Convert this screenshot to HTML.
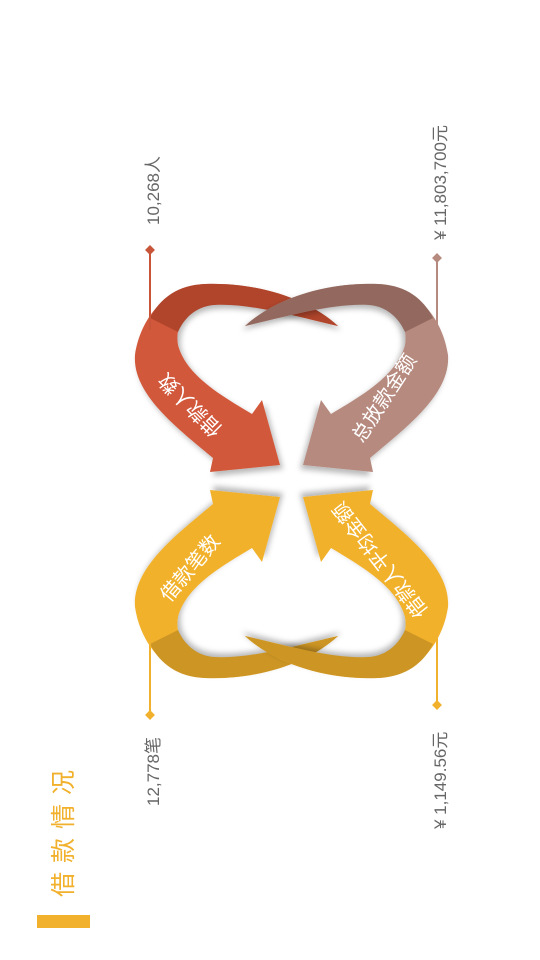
<!DOCTYPE html>
<html><head><meta charset="utf-8">
<style>
html,body{margin:0;padding:0;background:#fff;}
svg{display:block;font-family:"Liberation Sans","Noto Sans CJK SC",sans-serif;}
</style></head>
<body>
<svg width="540" height="960" viewBox="0 0 540 960">
<defs>
<filter id="sh" x="-20%" y="-20%" width="140%" height="140%"><feDropShadow dx="3" dy="4" stdDeviation="3" flood-color="#000" flood-opacity="0.28"/></filter>
<path id="ribbon" d="M338,326 C310,300 260,282 205,284 C165,286 140,320 135,355 C132,395 180,430 213,458 L210,472 L280,465 L262,400 L252,414 C220,395 186,375 178,345 C174,322 190,307 212,305 C247,302 290,315 338,326 Z"/>
<path id="fold" d="M338,326 C310,300 260,282 205,284 C178,285 160,298 150,318 L178,332 C186,314 200,306 214,305 C250,303 295,316 338,326 Z"/>
</defs>

<g>
<use href="#ribbon" fill="#d2593a" filter="url(#sh)"/>
<use href="#fold" fill="#b0452b"/>
</g>
<g transform="translate(583 0) scale(-1 1)">
<use href="#ribbon" fill="#b68a7e" filter="url(#sh)"/>
<use href="#fold" fill="#93695f"/>
</g>
<g transform="translate(0 962) scale(1 -1)">
<use href="#ribbon" fill="#f2b12c" filter="url(#sh)"/>
<use href="#fold" fill="#cc9524"/>
</g>
<g transform="translate(583 962) scale(-1 -1)">
<use href="#ribbon" fill="#f2b12c" filter="url(#sh)"/>
<use href="#fold" fill="#cc9524"/>
</g>

<text x="0" y="7" fill="#fff" font-size="20" text-anchor="middle" transform="translate(190 405) rotate(-135)">借款人数</text>
<text x="0" y="7" fill="#fff" font-size="20" text-anchor="middle" transform="translate(384 398) rotate(-57)">总放款金额</text>
<text x="0" y="7" fill="#fff" font-size="20" text-anchor="middle" transform="translate(190 568) rotate(-50)">借款笔数</text>
<text x="0" y="7" fill="#fff" font-size="20" text-anchor="middle" transform="translate(380 560) rotate(-128)">借款人平均金额</text>

<g>
<line x1="150" y1="250" x2="150" y2="330" stroke="#c8553a" stroke-width="2"/>
<rect x="146.5" y="246.5" width="7" height="7" fill="#c8553a" transform="rotate(45 150 250)"/>
</g>
<g>
<line x1="437" y1="258" x2="437" y2="325" stroke="#b68a7e" stroke-width="2"/>
<rect x="433.5" y="254.5" width="7" height="7" fill="#b68a7e" transform="rotate(45 437 258)"/>
</g>
<g>
<line x1="150" y1="635" x2="150" y2="715" stroke="#f2b12c" stroke-width="2"/>
<rect x="146.5" y="711.5" width="7" height="7" fill="#f2b12c" transform="rotate(45 150 715)"/>
</g>
<g>
<line x1="437" y1="630" x2="437" y2="705" stroke="#f2b12c" stroke-width="2"/>
<rect x="433.5" y="701.5" width="7" height="7" fill="#f2b12c" transform="rotate(45 437 705)"/>
</g>

<text x="0" y="0" fill="#666" font-size="17" transform="translate(159 225) rotate(-90)">10,268人</text>
<text x="0" y="0" fill="#666" font-size="17" transform="translate(446 240) rotate(-90)">¥ 11,803,700元</text>
<text x="0" y="0" fill="#666" font-size="17" transform="translate(159 806) rotate(-90)">12,778笔</text>
<text x="0" y="0" fill="#666" font-size="17" transform="translate(446 829) rotate(-90)">¥ 1,149.56元</text>

<text x="0" y="0" fill="#f2b12c" font-size="25" letter-spacing="9" transform="translate(72 897) rotate(-90)">借款情况</text>
<rect x="37" y="915" width="53" height="13" fill="#f2b12c"/>
</svg>
</body></html>
